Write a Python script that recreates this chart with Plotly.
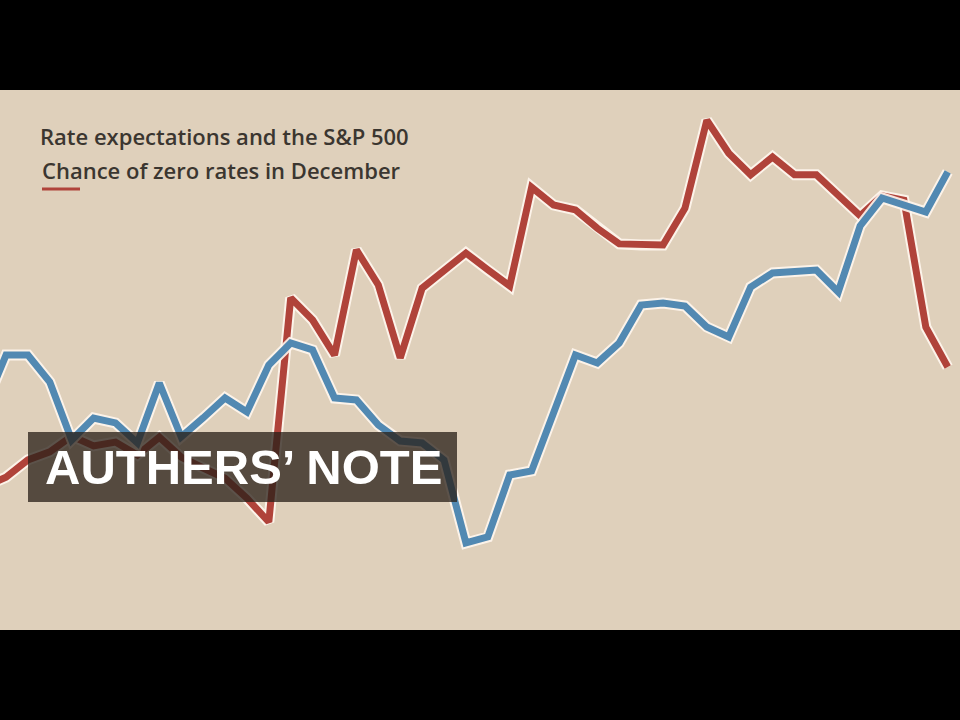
import plotly.graph_objects as go

# Trading-day index (x) for each series
red_days = list(range(-1, 44))
blue_days = list(range(-1, 44))

# Chance of zero rates in December (%)
red_values = [26.5, 28.3, 31.5, 33.0, 35.9, 34.1, 34.8, 32.4, 35.7, 32.0, 30.0,
              28.1, 24.4, 20.0, 61.5, 57.4, 50.9, 70.4, 63.9, 50.4, 63.3,
              66.7, 69.8, 66.7, 63.7, 82.0, 78.7, 77.8, 74.4, 71.5, 71.3,
              71.3, 78.1, 94.4, 88.3, 84.3, 87.6, 84.3, 84.3, 80.6, 76.7,
              80.4, 79.6, 56.1, 48.7]

# S&P 500 level
blue_values = [1943.9, 1978.2, 1978.2, 1960.7, 1923.1, 1937.4, 1934.2, 1921.2,
               1960.1, 1925.1, 1937.4, 1950.4, 1941.3, 1971.8, 1986.0, 1981.5,
               1950.4, 1949.1, 1932.9, 1922.5, 1921.2, 1910.2, 1856.4, 1860.3,
               1900.5, 1903.1, 1940.6, 1978.2, 1973.1, 1986.0, 2010.6, 2011.9,
               2010.0, 1996.4, 1989.9, 2022.3, 2031.4, 2032.7, 2033.3, 2019.1,
               2061.9, 2080.0, 2075.5, 2070.9, 2096.9]

title_text = "Rate expectations and the S&P 500"
subtitle_text = "Chance of zero rates in December"
banner_text = "AUTHERS\u2019 NOTE"

RED = "#b0433a"
BLUE = "#5289b2"
OUTLINE = "rgba(255,246,238,0.9)"
BG = "#dfd0bb"

fig = go.Figure()

# blue series (S&P 500) on secondary axis
fig.add_trace(go.Scatter(x=blue_days, y=blue_values, yaxis="y2", mode="lines",
                         line=dict(color=OUTLINE, width=11), hoverinfo="skip",
                         showlegend=False))
fig.add_trace(go.Scatter(x=blue_days, y=blue_values, yaxis="y2", mode="lines",
                         line=dict(color=BLUE, width=7), name="S&P 500",
                         showlegend=False))
# red series (chance of zero rates)
fig.add_trace(go.Scatter(x=red_days, y=red_values, mode="lines",
                         line=dict(color=OUTLINE, width=11), hoverinfo="skip",
                         showlegend=False))
fig.add_trace(go.Scatter(x=red_days, y=red_values, mode="lines",
                         line=dict(color=RED, width=7), name=subtitle_text,
                         showlegend=False))

fig.update_layout(
    width=960, height=720,
    margin=dict(l=0, r=0, t=90, b=90, pad=0),
    paper_bgcolor="#000000",
    plot_bgcolor=BG,
    xaxis=dict(range=[-0.274, 43.56], visible=False, fixedrange=True),
    yaxis=dict(range=[0, 100], visible=False),
    yaxis2=dict(range=[1800, 2150], visible=False, overlaying="y", side="right"),
    shapes=[
        # legend swatch under subtitle
        dict(type="line", xref="paper", yref="paper",
             x0=42/960, x1=80/960, y0=(630-189)/540, y1=(630-189)/540,
             line=dict(color=RED, width=3)),
        # banner box
        dict(type="rect", xref="paper", yref="paper",
             x0=28/960, x1=457/960, y0=(630-502)/540, y1=(630-432)/540,
             fillcolor="rgba(41,31,24,0.76)", line=dict(width=0), layer="above"),
    ],
    annotations=[
        dict(text=title_text, xref="paper", yref="paper", x=38/960,
             y=(630-136)/540, xanchor="left", yanchor="middle", showarrow=False,
             font=dict(family="Open Sans", size=22, color="#3b3630", weight=600)),
        dict(text=subtitle_text, xref="paper", yref="paper", x=40/960,
             y=(630-170)/540, xanchor="left", yanchor="middle", showarrow=False,
             font=dict(family="Open Sans", size=22, color="#3b3630", weight=600)),
        dict(text=banner_text, xref="paper", yref="paper", x=243/960,
             y=(630-467)/540, xanchor="center", yanchor="middle", showarrow=False,
             font=dict(family="Liberation Sans", size=49, color="#ffffff", weight="bold")),
    ],
)

fig.write_html("out.html", config={"displayModeBar": False},
               post_script="document.body.style.margin='0';document.body.style.overflow='hidden';")
